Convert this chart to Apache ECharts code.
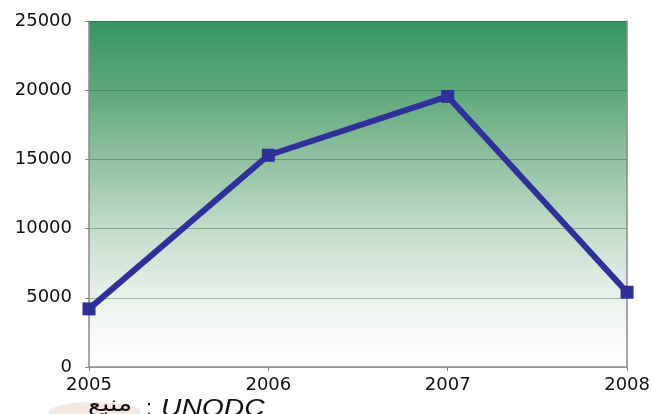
<!DOCTYPE html>
<html><head><meta charset="utf-8">
<script src="https://cdn.jsdelivr.net/npm/echarts@6/dist/echarts.min.js"></script>
<style>html,body{margin:0;padding:0;background:#fff}#c{width:653px;height:414px}</style>
</head><body><div id="c"></div>
<script>
var categories = ['2005','2006','2007','2008'];
var values = [4200, 15300, 19550, 5400];
var yTicks = [0, 5000, 10000, 15000, 20000, 25000];

var chart = echarts.init(document.getElementById('c'), null, {renderer:'canvas'});
var font = '"DejaVu Sans", sans-serif';
chart.setOption({
  animation:false,
  grid:{left:89,right:25,top:21,bottom:47,show:true,borderWidth:0,
    backgroundColor:{type:'linear',x:0,y:0,x2:0,y2:1,colorStops:[
      {offset:0,color:'#35965f'},{offset:0.2,color:'#5ea87b'},{offset:0.4,color:'#90c1a0'},
      {offset:0.6,color:'#c2dcc9'},{offset:0.78,color:'#e6efe8'},{offset:0.9,color:'#f6f9f6'},{offset:1,color:'#ffffff'}]}},
  xAxis:{type:'category',data:categories,boundaryGap:false,
    axisLine:{lineStyle:{color:'#8a8a8a',width:1.5}},
    axisTick:{show:true,length:4,alignWithLabel:true,lineStyle:{color:'#8a8a8a'}},
    axisLabel:{fontSize:18,color:'#111',fontFamily:font,margin:9},
    splitLine:{show:false}},
  yAxis:[{type:'value',min:yTicks[0],max:yTicks[yTicks.length-1],interval:5000,
    axisLine:{show:true,lineStyle:{color:'#8a8a8a',width:1.5}},
    axisTick:{show:true,length:4,lineStyle:{color:'#8a8a8a'}},
    axisLabel:{fontSize:18,color:'#111',fontFamily:font,margin:17,formatter:function(v){return String(v);}},
    splitLine:{show:true,lineStyle:{color:'rgba(40,70,50,0.35)',width:1}}},
    {type:'value',position:'right',min:0,max:25000,interval:5000,
    axisLine:{show:true,lineStyle:{color:'#8a8a8a',width:1.5}},
    axisTick:{show:false},axisLabel:{show:false},splitLine:{show:false}}],
  series:[{type:'line',data:values,symbol:'rect',symbolSize:13,
    lineStyle:{color:'#30309a',width:6},itemStyle:{color:'#30309a'}}],
  graphic:[
    {type:'ellipse',shape:{cx:95,cy:412,rx:46,ry:10},style:{fill:'#f5e7e4'},z:-1},
    {type:'text',x:88,y:394,scaleX:1.2,style:{text:'منبع',font:'22px "DejaVu Sans", sans-serif',fill:'#111'}},
    {type:'text',left:146,top:398,style:{text:':',font:'22px Liberation Sans, sans-serif',fill:'#111'}},
    {type:'text',x:161,y:398,scaleX:1.23,style:{text:'UNODC',font:'italic 23px Liberation Sans, Arial, sans-serif',fill:'#111'}}
  ]
});
</script></body></html>
